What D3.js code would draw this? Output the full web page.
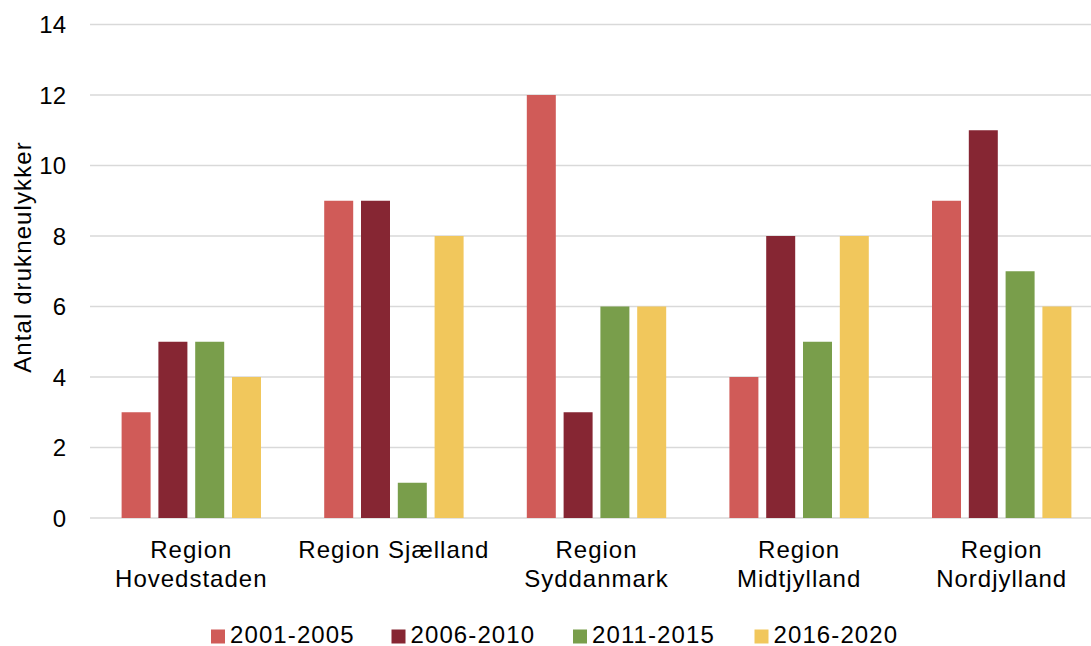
<!DOCTYPE html>
<html>
<head>
<meta charset="utf-8">
<script src="https://cdn.jsdelivr.net/npm/d3@7"></script>
<style>
  html, body { margin: 0; padding: 0; background: #fff; overflow: hidden; }
  svg { display: block; font-family: "Liberation Sans", Arial, sans-serif; }
</style>
</head>
<body>
<svg id="chart" width="1091" height="646"></svg>
<script>
const categories = ["Region Hovedstaden", "Region Sjælland", "Region Syddanmark", "Region Midtjylland", "Region Nordjylland"];
const seriesNames = ["2001-2005", "2006-2010", "2011-2015", "2016-2020"];
const s2001 = [3, 9, 12, 4, 9];
const s2006 = [5, 9, 3, 8, 11];
const s2011 = [5, 1, 6, 5, 7];
const s2016 = [4, 8, 6, 8, 6];
const seriesColors = ["#D05B58", "#862633", "#799E4B", "#F1C75C"];
const yTicks = [0, 2, 4, 6, 8, 10, 12, 14];
const yTitle = "Antal drukneulykker";

const seriesValues = [s2001, s2006, s2011, s2016];

const svg = d3.select("#chart");
const plotLeft = 90, plotRight = 1103, plotTop = 24.5, plotBottom = 518;

const x0 = d3.scaleBand().domain(categories).range([plotLeft, plotRight]).paddingInner(0).paddingOuter(0);
const x1 = d3.scaleBand().domain(seriesNames).range([0, x0.bandwidth()]).paddingInner(0.212).paddingOuter(0.859);
const y = d3.scaleLinear().domain([0, 14]).range([plotBottom, plotTop]);

// gridlines
svg.append("g").selectAll("line").data(yTicks).join("line")
  .attr("x1", plotLeft).attr("x2", plotRight)
  .attr("y1", d => y(d)).attr("y2", d => y(d))
  .attr("stroke", "#D9D9D9").attr("stroke-width", 1.5);

// y axis labels
const yAxis = d3.axisLeft(y).tickValues(yTicks).tickSize(0).tickPadding(0);
const yg = svg.append("g").attr("transform", `translate(66,0)`).call(yAxis);
yg.select(".domain").remove();
yg.selectAll("text").attr("font-size", 24).attr("fill", "#000")
  .attr("font-family", "Liberation Sans, Arial, sans-serif").attr("dy", "0.35em");

// bars
const groups = svg.append("g").selectAll("g").data(categories).join("g")
  .attr("transform", d => `translate(${x0(d)},0)`);
groups.selectAll("rect")
  .data((c, i) => seriesNames.map((s, j) => ({ s, v: seriesValues[j][i], c: seriesColors[j] })))
  .join("rect")
  .attr("x", d => x1(d.s)).attr("width", x1.bandwidth())
  .attr("y", d => y(d.v)).attr("height", d => y(0) - y(d.v))
  .attr("fill", d => d.c);

// category labels with wrapping
const xg = svg.append("g");
categories.forEach(c => {
  const cx = x0(c) + x0.bandwidth() / 2;
  const t = xg.append("text").attr("x", cx).attr("y", 557.5)
    .attr("text-anchor", "middle").attr("font-size", 24).attr("letter-spacing", 1)
    .attr("fill", "#000").text(c);
  if (t.node().getComputedTextLength() > x0.bandwidth() - 8) {
    const words = c.split(" ");
    t.text(null);
    words.forEach((w, i) => {
      t.append("tspan").attr("x", cx).attr("y", 557.5 + i * 29).text(w);
    });
  }
});

// y title
svg.append("text")
  .attr("transform", "translate(31,257) rotate(-90)")
  .attr("text-anchor", "middle").attr("font-size", 24).attr("letter-spacing", 1.1)
  .attr("fill", "#000").text(yTitle);

// legend
const legend = svg.append("g");
const legX = [211, 391.5, 573, 754.5];
seriesNames.forEach((s, i) => {
  legend.append("rect").attr("x", legX[i]).attr("y", 629.5).attr("width", 14).attr("height", 14)
    .attr("fill", seriesColors[i]);
  legend.append("text").attr("x", legX[i] + 19).attr("y", 643)
    .attr("font-size", 24).attr("letter-spacing", 1.1).attr("fill", "#000").text(s);
});
</script>
</body>
</html>
